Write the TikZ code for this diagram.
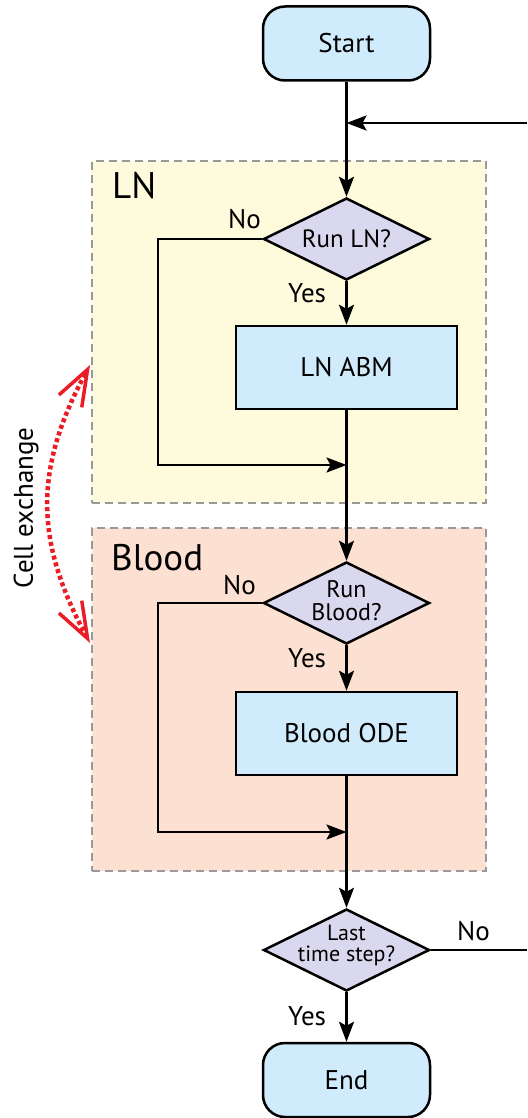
\documentclass[tikz,border=0pt]{standalone}
\usepackage{fontspec}
\setmainfont{PT Sans}
\usetikzlibrary{arrows.meta,shapes.geometric}
\definecolor{lnfill}{HTML}{FEFBDC}
\definecolor{bloodfill}{HTML}{FCE0D2}
\definecolor{boxblue}{HTML}{D0EBFB}
\definecolor{diafill}{HTML}{DAD8EE}
\definecolor{regborder}{HTML}{999999}
\definecolor{exred}{HTML}{EC1C24}
\begin{document}
\begin{tikzpicture}[x=1pt,y=-1pt,
  txt/.style={font=\fontsize{27}{29}\selectfont},
  region/.style={draw=regborder, line width=2pt, dash pattern=on 8pt off 5pt, anchor=north west, inner sep=0pt},
  terminal/.style={draw=black, line width=2.5pt, fill=boxblue, rounded corners=22pt, minimum width=167pt, minimum height=74pt, inner sep=0pt, txt},
  process/.style={draw=black, line width=2.5pt, fill=boxblue, minimum width=221pt, minimum height=83pt, inner sep=0pt, txt},
  decision/.style={draw=black, line width=2.5pt, fill=diafill, diamond, aspect=2, minimum width=166pt, minimum height=82pt, inner sep=0pt},
  dtext/.style={align=center, inner sep=0pt},
  flow/.style={line width=2.5pt, -{Stealth[length=20pt,width=15pt,inset=4pt]}},
  plain/.style={line width=2.5pt},
  lbl/.style={txt, anchor=base west, inner sep=0pt},
  head/.style={font=\fontsize{37}{40}\selectfont, anchor=base west, inner sep=0pt},
  exchange/.style={exred, line width=4.5pt, dash pattern=on 4pt off 3pt,
    {Straight Barb[length=36pt,width=26pt,line width=3.5pt]}-{Straight Barb[length=36pt,width=26pt,line width=3.5pt]}}
]
\useasboundingbox (0,0) rectangle (527,1118);

% regions
\node[region, fill=lnfill, minimum width=394pt, minimum height=342pt] (lnreg) at (91,160) {};
\node[region, fill=bloodfill, minimum width=394pt, minimum height=343pt] (bloodreg) at (91,527) {};
\node[head] (lnhead) at (112,198) {LN};
\node[head] (bloodhead) at (111,570) {Blood};

% nodes
\node[terminal] (start) at (346.5,43.5) {Start};
\node[decision] (runln) at (346.5,239) {};
\node[dtext, font=\fontsize{25}{27}\selectfont] (runlntxt) at (346.5,239) {Run LN?};
\node[process] (lnabm) at (346.5,367.5) {LN ABM};
\node[decision] (runblood) at (346.5,603) {};
\node[dtext, font=\fontsize{24}{23}\selectfont] (runbloodtxt) at (346.5,601) {Run\\Blood?};
\node[process] (bloodode) at (346.5,733.5) {Blood ODE};
\node[decision] (last) at (346.5,950) {};
\node[dtext, font=\fontsize{22}{21}\selectfont] (lasttxt) at (346.5,945) {Last\\time step?};
\node[terminal] (end) at (346.5,1080) {End};

% coordinates
\coordinate (join) at (346.5,123);
\coordinate (retin) at (527,123);
\coordinate (lnmerge) at (346.5,465);
\coordinate (lnleft) at (158,465);
\coordinate (bloodmerge) at (346.5,832);
\coordinate (bloodleft) at (158,832);
\coordinate (lastout) at (527,950);

% labels
\node[lbl] (lnno) at (228,228) {No};
\node[lbl] (lnyes) at (288,302) {Yes};
\node[lbl] (bloodno) at (223,594) {No};
\node[lbl] (bloodyes) at (288,667) {Yes};
\node[lbl] (lastno) at (457,940) {No};
\node[lbl] (lastyes) at (288,1025) {Yes};

% connectors
\draw[flow] (start.south) -- (runln.north);
\draw[flow] (retin) -- (join);
\draw[flow] (runln.south) -- (lnabm.north);
\draw[flow] (runln.west) -| (lnleft) -- (lnmerge);
\draw[flow] (lnabm.south) -- (runblood.north);
\draw[flow] (runblood.south) -- (bloodode.north);
\draw[flow] (runblood.west) -| (bloodleft) -- (bloodmerge);
\draw[flow] (bloodode.south) -- (last.north);
\draw[flow] (last.south) -- (end.north);
\draw[plain] (last.east) -- (lastout);

% cell exchange
\coordinate (ceb) at (90,643);
\coordinate (cet) at (90,365);
\draw[exchange] (ceb) .. controls (34,540) and (34,468) .. (cet);
\node[font=\fontsize{27}{29}\selectfont, rotate=90] (celabel) at (26,508) {Cell exchange};
\end{tikzpicture}
\end{document}
